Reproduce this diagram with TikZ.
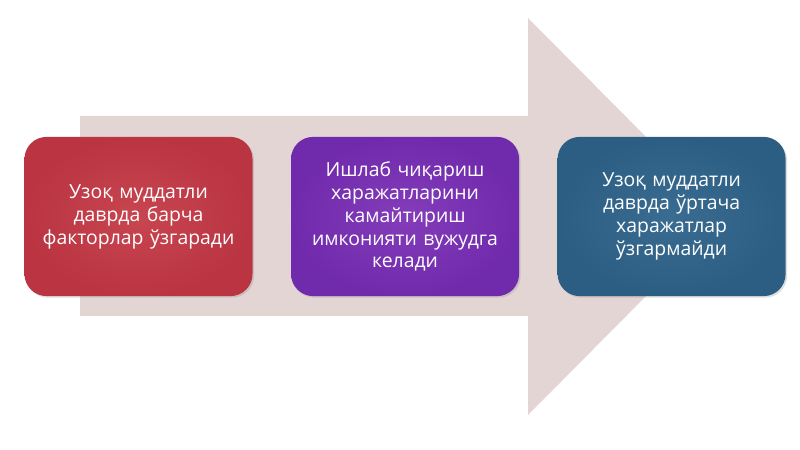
\documentclass[tikz,border=0pt]{standalone}
\usepackage{fontspec}
\setmainfont{Open Sans}
\usepackage{tikz}
\usetikzlibrary{positioning, shadows}
\definecolor{arrowgray}{RGB}{228,213,213}
\definecolor{boxred}{RGB}{186,52,66}
\definecolor{boxredlight}{RGB}{200,70,80}
\definecolor{boxpurple}{RGB}{112,42,172}
\definecolor{boxpurplelight}{RGB}{132,60,185}
\definecolor{boxblue}{RGB}{44,94,132}
\definecolor{boxbluelight}{RGB}{58,108,145}
\tikzstyle{factor} = [rectangle, rounded corners=0.55cm, minimum width=5.7cm, minimum height=3.98cm, text centered, text width=5.4cm, text=white, font=\fontsize{13.8}{16.3}\selectfont, drop shadow={opacity=0.25, shadow xshift=0.04cm, shadow yshift=-0.04cm}]
\tikzstyle{redfactor} = [factor, inner color=boxredlight, outer color=boxred]
\tikzstyle{purplefactor} = [factor, inner color=boxpurplelight, outer color=boxpurple]
\tikzstyle{bluefactor} = [factor, inner color=boxbluelight, outer color=boxblue]
\begin{document}
\begin{tikzpicture}[node distance=0.95cm]
        \useasboundingbox (0,0) rectangle (20,11.225);
        % background arrow
        \fill [arrowgray] (2,3.325) -- (2,8.325) -- (13.2,8.325) -- (13.2,10.775) -- (18.125,5.8125) -- (13.2,0.85) -- (13.2,3.325) -- cycle;

        \node (longrun) [redfactor] at (3.4625,5.8125) {Узоқ муддатли\\даврда барча\\факторлар ўзгаради};
        \node (costcut) [purplefactor, right=of longrun] {Ишлаб чиқариш\\харажатларини\\камайтириш\\имконияти вужудга\\келади};
        \node (avgcost) [bluefactor, right=of costcut] {Узоқ муддатли\\даврда ўртача\\харажатлар\\ўзгармайди};

      \end{tikzpicture}
\end{document}
